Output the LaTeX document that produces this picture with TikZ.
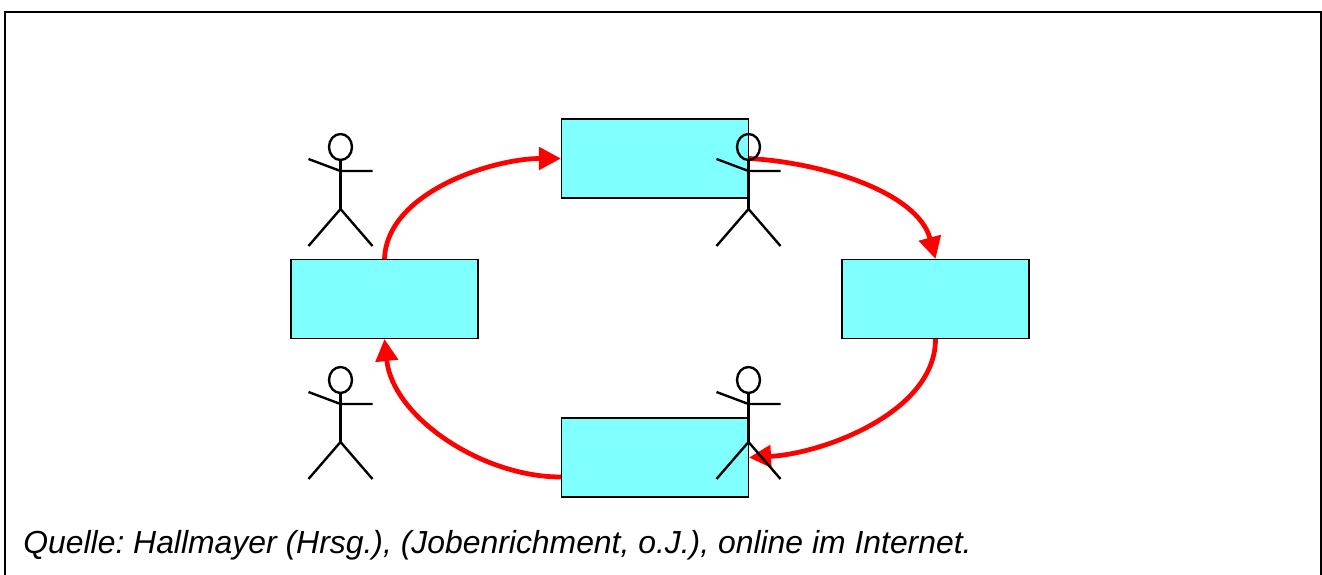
\documentclass[tikz,border=0pt]{standalone}
\usepackage{fontspec}
\setmainfont{Liberation Sans}
\definecolor{boxcyan}{RGB}{128,255,255}
\definecolor{arcred}{RGB}{255,0,0}
\usetikzlibrary{arrows.meta}
\tikzset{
	stagebox/.style={draw=black, fill=boxcyan, line width=.6pt, minimum width=3.74cm, minimum height=1.58cm, inner sep=0pt},
	rotarrow/.style={draw=arcred, line width=2.7pt, looseness=.85, -{Triangle[length=.44cm, width=.44cm, fill=arcred]}},
	figline/.style={draw=black, line width=1.35pt},
}
\newcommand{\Person}[1]{
	\begin{scope}[shift={(#1)}]
		\draw[figline] (0,0) ellipse (.23cm and .26cm);
		\draw[figline] (0,-.26) -- (0,-1.24);
		\draw[figline] (-.64,-.24) -- (0,-.48) -- (.64,-.48);
		\draw[figline] (-.64,-1.98) -- (0,-1.24) -- (.64,-1.98);
	\end{scope}
}

\begin{document}
\begin{tikzpicture}
	\useasboundingbox (0,0) rectangle (26.44,-11.5);
	\draw[line width=1.3pt] (.1,-11.6) -- (.1,-.24) -- (26.42,-.24) -- (26.42,-11.6);

	\node[stagebox] (top) at (13.1,-3.17) {};
	\node[stagebox] (left) at (7.69,-5.98) {};
	\node[stagebox] (right) at (18.71,-5.98) {};
	\node[stagebox] (bottom) at (13.1,-9.15) {};
	\coordinate (bottomin) at (bottom.east);
	\coordinate (bottomout) at ([yshift=-.39cm]bottom.west);

	\draw[rotarrow] (left.north) to[out=88, in=180] (top.west);
	\draw[rotarrow] (top.east) to[out=-3, in=105] (right.north);
	\draw[rotarrow] (right.south) to[out=-90, in=3] (bottomin);
	\draw[rotarrow] (bottomout) to[out=180, in=-84, looseness=.9] (left.south);

	\Person{6.81,-2.94}
	\Person{14.97,-2.94}
	\Person{6.81,-7.6}
	\Person{14.97,-7.6}

	\node[anchor=base west, inner sep=0pt, font=\itshape\frenchspacing\fontsize{18.15}{22}\selectfont] (source) at (.46,-11.07) {Quelle: Hallmayer (Hrsg.), (Jobenrichment, o.J.), online im Internet.};
\end{tikzpicture}
\end{document}
